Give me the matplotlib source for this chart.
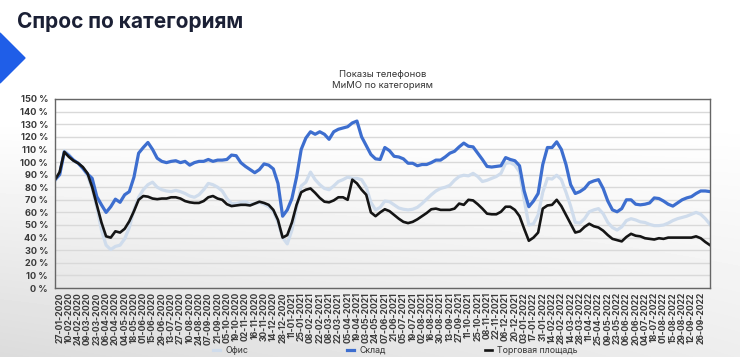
import numpy as np
import matplotlib
matplotlib.use("Agg")
import matplotlib.pyplot as plt
from matplotlib.patches import Polygon

plt.rcParams['font.family'] = ['Inter', 'DejaVu Sans']

# Данные: недельные значения, % (по категориям)
ofis = [85, 90, 109, 106, 101, 99, 95, 89, 79, 64,
        46, 34, 30.5, 33, 34, 39, 48, 62, 72, 78,
        82, 84, 80, 78, 77, 76.5, 77.5, 76.5, 75, 73,
        72, 74, 78, 83, 82, 80, 77, 71, 67, 67,
        68, 68.5, 66.5, 67, 68, 66.5, 64.5, 61, 52, 40,
        35, 46, 64, 81, 84, 92, 86, 82, 79, 78,
        81, 84.5, 86, 88, 87, 87, 86, 80, 68, 62,
        64, 69, 68.5, 66, 63.5, 62.5, 62, 62.5, 64, 67,
        70.5, 74, 77, 79, 80, 81.5, 85.5, 88.5, 89.5, 89,
        91, 88.5, 84.5, 85.5, 87, 88.5, 91, 99, 99.5, 97.5,
        92, 70, 50, 51, 58, 76, 87, 86.5, 89.5, 86,
        76, 65, 52, 51.5, 55, 60.5, 62, 63, 59, 52,
        48, 46, 48.5, 53.5, 55, 54, 52.5, 52, 50.5, 49.5,
        49.5, 50, 51.5, 53.5, 55, 56, 57, 58.5, 60, 58.5,
        55, 50.5]

sklad = [86, 90, 108, 105, 101.5, 99, 95, 90.5, 87, 72.5,
         66, 60, 64.5, 70.5, 68, 74, 76.5, 88, 107, 111.5,
         115.5, 110, 103, 100.5, 99.5, 100.5, 101, 99.5, 100.5, 97.5,
         99.5, 100.5, 100.5, 102, 100.5, 101.5, 101.5, 102, 105.5, 105,
         99.5, 96.5, 94, 91.5, 94, 98.5, 97.5, 94.5, 83, 57,
         62, 71, 88, 110, 119, 124, 122, 124, 122, 118,
         124, 126, 127, 128, 131, 132.5, 120, 113, 106, 102.5,
         102, 111.5, 109, 104.5, 104, 102.5, 99, 99, 97, 98,
         98, 99.5, 101.5, 101.5, 104, 107, 108.5, 112, 115, 112.5,
         112, 107, 102, 96.5, 96, 96.5, 97, 103.5, 102, 101,
         97, 77, 64.5, 69, 75, 98, 111.5, 111.5, 116, 110,
         98, 82, 75, 76.5, 79, 83.5, 85, 86, 79, 69,
         62, 60.5, 63, 70, 70, 66.5, 66, 66.5, 67.5, 71.5,
         71, 69, 66.5, 65, 67.5, 70, 71.5, 72.5, 75, 77,
         77, 76.5]

torg = [86, 92, 108, 104, 101, 99, 96, 91, 80, 66,
        52, 41, 40, 45, 44, 47, 53, 61, 70, 73,
        72.5, 71, 70.5, 71, 71, 72, 72, 71, 69, 68,
        67.5, 67.5, 69, 72, 73, 71, 70, 66.5, 65, 65.5,
        66, 66, 65.5, 67, 68.5, 67.5, 66, 62, 54, 40,
        42, 52, 66, 76, 78, 79, 75.5, 71.5, 68.5, 68,
        69.5, 72, 72, 70, 86, 83, 78, 74, 60, 57,
        60, 62.5, 61, 58, 55, 52.5, 51.5, 52.5, 54.5, 57,
        59.5, 62.5, 63, 62, 62, 62, 63, 67, 66, 70,
        69.5, 66.5, 63, 59, 58.5, 58.5, 60.5, 64.5, 64.5, 62,
        57, 47, 37.5, 40, 44, 63, 65.5, 66, 70, 65,
        58, 51, 44, 45, 48.5, 51, 49, 48, 45.5, 42,
        39, 38, 37, 40.5, 43, 41.5, 41, 39.5, 39, 38.5,
        39.5, 39, 40, 40, 40, 40, 40, 40, 41, 39.5,
        36.5, 34]

date_labels = [
    '27-01-2020', '10-02-2020', '24-02-2020', '09-03-2020', '23-03-2020',
    '06-04-2020', '20-04-2020', '04-05-2020', '18-05-2020', '01-06-2020',
    '15-06-2020', '29-06-2020', '13-07-2020', '27-07-2020', '10-08-2020',
    '24-08-2020', '07-09-2020', '21-09-2020', '05-10-2020', '19-10-2020',
    '02-11-2020', '16-11-2020', '30-11-2020', '14-12-2020', '28-12-2020',
    '11-01-2021', '25-01-2021', '08-02-2021', '22-02-2021', '08-03-2021',
    '22-03-2021', '05-04-2021', '19-04-2021', '03-05-2021', '24-05-2021',
    '07-06-2021', '21-06-2021', '05-07-2021', '19-07-2021', '02-08-2021',
    '16-08-2021', '30-08-2021', '13-09-2021', '27-09-2021', '11-10-2021',
    '25-10-2021', '08-11-2021', '22-11-2021', '06-12-2021', '20-12-2021',
    '03-01-2022', '17-01-2022', '31-01-2022', '14-02-2022', '28-02-2022',
    '14-03-2022', '28-03-2022', '11-04-2022', '25-04-2022', '09-05-2022',
    '23-05-2022', '06-06-2022', '20-06-2022', '04-07-2022', '18-07-2022',
    '01-08-2022', '15-08-2022', '29-08-2022', '12-09-2022', '26-09-2022']

series_names = ['Офис', 'Склад', 'Торговая площадь']

fig = plt.figure(figsize=(7.4, 3.57), dpi=100)

# фон слайда: светлый градиент книзу
bg = fig.add_axes([0, 0, 1, 1], zorder=-10)
bg.axis('off')
yy, xx = np.mgrid[0:357, 0:740]
v = np.clip((yy - 120) / 237.0, 0, 1)
shade = 1 - 0.14 * v * (1 - 0.5 * xx / 740.0)
bg.imshow(shade, cmap='gray', vmin=0, vmax=1, aspect='auto',
          extent=[0, 1, 0, 1], interpolation='bilinear')

# синий треугольник слева
tri = Polygon([(0, 1 - 33 / 357), (25 / 740, 1 - 58 / 357), (0, 1 - 83 / 357)],
              closed=True, transform=fig.transFigure, color='#1f5ee8')
fig.patches.append(tri)

fig.text(17 / 740, 1 - 22 / 357, 'Спрос по категориям', fontsize=15,
         fontweight='bold', color='#1b2035', va='center', ha='left')

ax = fig.add_axes([55 / 740, 1 - 288 / 357, 655 / 740, 189 / 357])
ax.set_facecolor('none')

x = np.arange(len(sklad))
ax.plot(x, ofis, color='#cfdcec', linewidth=2.3, label=series_names[0])
ax.plot(x, sklad, color='#3d6ecf', linewidth=2.3, label=series_names[1])
ax.plot(x, torg, color='#151515', linewidth=1.9, label=series_names[2])

ax.set_xlim(0, len(sklad) - 1)
ax.set_ylim(0, 150)
ax.set_yticks(range(0, 151, 10))
ax.set_yticklabels([f'{v} %' for v in range(0, 151, 10)])
ax.set_xticks(np.arange(1, 2 * len(date_labels), 2))
ax.set_xticklabels(date_labels, rotation=90)
ax.tick_params(axis='both', length=0, colors='#3a3a3a', labelsize=6.2)
ax.tick_params(axis='y', pad=5, labelsize=6.6)
ax.tick_params(axis='x', pad=3)
for lab in ax.get_xticklabels() + ax.get_yticklabels():
    lab.set_fontweight('bold')

ax.yaxis.grid(True, color='#d9d9d9', linewidth=1)
ax.set_axisbelow(True)
for s in ax.spines.values():
    s.set_color('#666666')
    s.set_linewidth(1)

ax.set_title('Показы телефонов\nМиМО по категориям', fontsize=6.8,
             color='#333333', pad=8, linespacing=1.3)

ax.legend(loc='center', bbox_to_anchor=(0.52, -0.33), ncol=3, frameon=False,
          fontsize=6.3, handlelength=0.8, handletextpad=0.6,
          columnspacing=11.3, labelcolor='#333333')

fig.savefig('out.png', dpi=100)
